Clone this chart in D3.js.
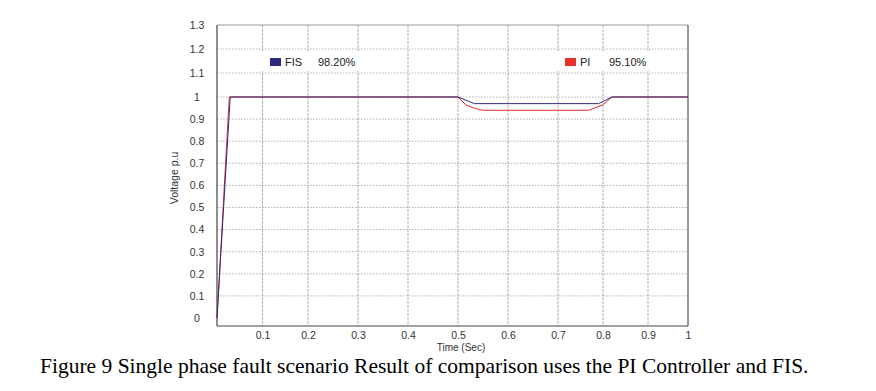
<!DOCTYPE html>
<html>
<head>
<meta charset="utf-8">
<script src="https://cdn.jsdelivr.net/npm/d3@7"></script>
<style>
  body { margin: 0; background: #fff; }
  svg { display: block; font-family: "Liberation Sans", Arial, sans-serif; }
</style>
</head>
<body>
<div id="chart"></div>
<script>
// Series (time in s, voltage in p.u)
var fis_time = [0, 0.029, 0.5, 0.533, 0.79, 0.82, 1]
var fis_vals = [0, 1, 1, 0.97, 0.97, 1, 1]

var pi_time = [0, 0.027, 0.5, 0.516, 0.533, 0.549, 0.768, 0.8, 0.82, 1]
var pi_vals = [0, 1, 1, 0.964, 0.949, 0.94, 0.94, 0.965, 1, 1]

var x_ticks = [0.1, 0.2, 0.3, 0.4, 0.5, 0.6, 0.7, 0.8, 0.9, 1]
var y_ticks = [0, 0.1, 0.2, 0.3, 0.4, 0.5, 0.6, 0.7, 0.8, 0.9, 1, 1.1, 1.2, 1.3]

var legend_items = [
  { name: "FIS", score: "98.20%", color: "#2e2b7c", x: 262 },
  { name: "PI", score: "95.10%", color: "#e5302c", x: 557 }
]

var width = 876, height = 391

var svg = d3.select("#chart")
  .append("svg")
  .attr("width", width)
  .attr("height", height)

// the source figure is not evenly spaced, so the scales are piecewise
var x_scale = d3.scaleLinear()
  .domain([0, 0.2, 0.7, 0.9, 1])
  .range([217, 308, 558, 648, 688])

var y_scale = d3.scaleLinear()
  .domain([0, 1, 1.3])
  .range([318, 97, 25])

var p_left = x_scale(0), p_right = x_scale(1)
var p_top = y_scale(1.3), p_bottom = 326

// grid
svg.append("g")
  .selectAll("line")
  .data(y_ticks.filter(d => d > 0 && d < 1.3))
  .enter().append("line")
  .attr("x1", p_left).attr("x2", p_right)
  .attr("y1", d => y_scale(d)).attr("y2", d => y_scale(d))
  .attr("stroke", "#a0a0a0")
  .attr("stroke-width", 0.8)
  .attr("stroke-dasharray", "1.5,1.5")

svg.append("g")
  .selectAll("line")
  .data(x_ticks.filter(d => d < 1))
  .enter().append("line")
  .attr("x1", d => x_scale(d)).attr("x2", d => x_scale(d))
  .attr("y1", p_top).attr("y2", p_bottom)
  .attr("stroke", "#a0a0a0")
  .attr("stroke-width", 0.8)
  .attr("stroke-dasharray", "3,1")

// frame
svg.append("line").attr("x1", p_left).attr("x2", p_right).attr("y1", p_top).attr("y2", p_top)
  .attr("stroke", "#999").attr("stroke-width", 1)
svg.append("line").attr("x1", p_right).attr("x2", p_right).attr("y1", p_top).attr("y2", p_bottom)
  .attr("stroke", "#333").attr("stroke-width", 1)
svg.append("line").attr("x1", p_left).attr("x2", p_left).attr("y1", p_top).attr("y2", p_bottom)
  .attr("stroke", "#444").attr("stroke-width", 1.2)
svg.append("line").attr("x1", p_left).attr("x2", p_right).attr("y1", p_bottom).attr("y2", p_bottom)
  .attr("stroke", "#444").attr("stroke-width", 1.2)

// axes (labels only)
var xaxis = svg.append("g")
  .attr("transform", "translate(0," + p_bottom + ")")
  .call(d3.axisBottom(x_scale).tickValues(x_ticks).tickSize(0).tickPadding(6).tickFormat(d3.format("~g")))
xaxis.select(".domain").remove()
xaxis.selectAll("text").attr("font-size", "10.5px").attr("fill", "#333").attr("font-family", null)

var yaxis = svg.append("g")
  .attr("transform", "translate(" + p_left + ",0)")
  .call(d3.axisLeft(y_scale).tickValues(y_ticks).tickSize(0).tickFormat(d3.format("~g")))
yaxis.select(".domain").remove()
yaxis.selectAll("text")
  .attr("x", -20)
  .attr("text-anchor", "middle")
  .attr("font-size", "10.5px").attr("fill", "#333").attr("font-family", null)

// axis titles
svg.append("text")
  .attr("transform", "translate(178,178) rotate(-90)")
  .attr("text-anchor", "middle")
  .attr("font-size", "10.5px")
  .attr("fill", "#333")
  .text("Voltage p.u")

svg.append("text")
  .attr("x", 461).attr("y", 351)
  .attr("text-anchor", "middle")
  .attr("font-size", "10px")
  .attr("fill", "#333")
  .text("Time (Sec)")

// lines
var line = d3.line()
  .x(d => x_scale(d[0]))
  .y(d => y_scale(d[1]))

svg.append("path")
  .attr("d", line(d3.zip(pi_time, pi_vals)))
  .attr("fill", "none")
  .attr("stroke", "#e5302c")
  .attr("stroke-width", 1)

svg.append("path")
  .attr("d", line(d3.zip(fis_time, fis_vals)))
  .attr("fill", "none")
  .attr("stroke", "#2e2b7c")
  .attr("stroke-width", 1)

// legends
var leg = svg.selectAll(".legend")
  .data(legend_items)
  .enter().append("g")
  .attr("class", "legend")
  .attr("transform", d => "translate(" + d.x + ",51)")

leg.append("rect")
  .attr("width", 104).attr("height", 20)
  .attr("fill", "#fff")

leg.append("rect")
  .attr("x", 8).attr("y", 7)
  .attr("width", 11).attr("height", 8)
  .attr("fill", d => d.color)

leg.append("text")
  .attr("x", 23).attr("y", 15)
  .attr("font-size", "11px")
  .attr("fill", "#222")
  .text(d => d.name)

leg.append("text")
  .attr("x", d => d.name == "FIS" ? 56 : 52).attr("y", 15)
  .attr("font-size", "11px")
  .attr("fill", "#222")
  .text(d => d.score)

// caption
svg.append("text")
  .attr("x", 40).attr("y", 373)
  .attr("font-family", "'Liberation Serif', 'Times New Roman', serif")
  .attr("font-size", "21.5px")
  .attr("fill", "#000")
  .text("Figure 9 Single phase fault scenario Result of comparison uses the PI Controller and FIS.")
</script>
</body>
</html>
